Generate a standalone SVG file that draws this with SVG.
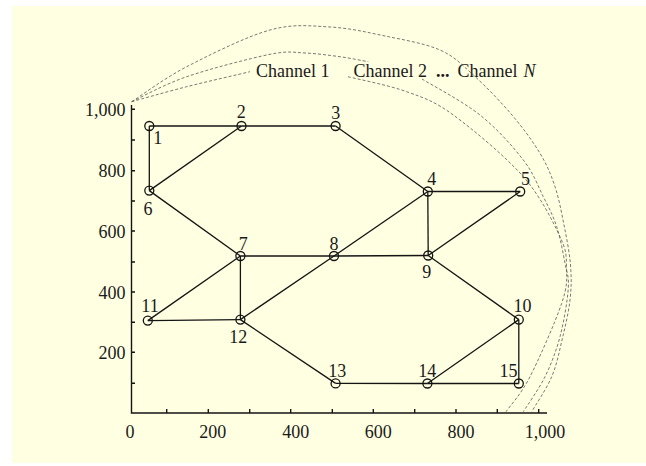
<svg xmlns="http://www.w3.org/2000/svg" width="646" height="466" viewBox="0 0 646 466">
<style>
text{font-family:"Liberation Serif","Times New Roman",serif;fill:#1a1a1a}
.lbl{font-size:18px;text-anchor:middle}
.ax{font-size:18px}
.edge{stroke:#141414;stroke-width:1.3;fill:none}
.axis{stroke:#141414;stroke-width:1.4;fill:none}
.node circle{fill:none;stroke:#141414;stroke-width:1.3}
.arc{fill:none;stroke:#555;stroke-width:0.8;stroke-dasharray:3 2}
</style>
<rect x="0" y="0" width="646" height="466" fill="#ffffff"/>
<rect x="12" y="6" width="634" height="457" fill="#ffffe1"/>

<g id="axes">
<path class="axis" d="M131.5,105 V413 H547"/>
<path class="axis" d="M131.5,140 h3.5 M131.5,201 h3.5 M131.5,262 h3.5 M131.5,322.3 h3.5 M131.5,383.3 h3.5 M131.5,109.3 h3.5 M131.5,170.7 h3.5 M131.5,231 h3.5 M131.5,292 h3.5 M131.5,352.3 h3.5"/>
<path class="axis" d="M166.7,413 v-4 M208.3,413 v-4 M249.7,413 v-4 M290.7,413 v-4 M332.3,413 v-4 M373.3,413 v-4 M414.7,413 v-4 M456,413 v-4 M497.3,413 v-4 M538.7,413 v-4"/>
<g class="ax" text-anchor="end">
<text x="125.5" y="116">1,000</text>
<text x="125.5" y="177">800</text>
<text x="125.5" y="237.5">600</text>
<text x="125.5" y="298.5">400</text>
<text x="125.5" y="358.5">200</text>
</g>
<g class="ax" text-anchor="middle">
<text x="130" y="438">0</text>
<text x="212.7" y="438">200</text>
<text x="295.7" y="438">400</text>
<text x="378.3" y="438">600</text>
<text x="461" y="438">800</text>
<text x="545" y="438">1,000</text>
</g>
</g>

<g id="channels">
<path class="arc" d="M131.7,101.7 C140.9,99.2 167,91.7 186.7,86.7 C206.4,81.7 239.5,74.2 250,71.7"/>
<path class="arc" d="M348,76.7 C357.8,79.2 389.2,85.3 406.7,91.7 C424.3,98.1 433.9,100.8 453.3,115 C472.7,129.2 505.5,156.4 523.3,176.7 C541.1,197 552.8,221.5 560,236.7 C567.2,251.9 566.2,256.9 566.5,268 C566.8,279.1 567.8,285.2 561.7,303.3 C555.6,321.4 539.3,358.6 530,376.7 C520.7,394.8 510,405.9 506,411.7"/>
<path class="arc" d="M131.7,101.7 C140.9,97.5 163.7,84.6 186.7,76.7 C209.8,68.8 250.3,58.3 270,54.3 C289.7,50.4 293.3,52.6 305,53 C315.6,53.4 329.5,55.3 340,56.7 C350.6,58.2 363.6,60.9 368.3,61.7"/>
<path class="arc" d="M422,79 C431.7,85 463.1,101.5 480,115 C496.9,128.5 512.8,146.4 523.3,160 C533.9,173.6 537.7,185.6 543.3,196.7 C548.9,207.8 553.1,215.6 556.7,226.7 C560.3,237.8 563.1,253.1 565,263.3 C566.9,273.5 569.1,275.8 568.3,288 C567.5,300.2 563.9,321.9 560,336.7 C556.1,351.5 551.1,364.2 545,376.7 C538.9,389.2 526.9,405.9 523.3,411.7"/>
<path class="arc" d="M131.7,101.7 C140.9,95.9 163.7,78.7 186.7,66.7 C209.8,54.8 246.1,36.6 270,30 C293.9,23.4 310.8,26 330,27 C349.2,28 366.7,32.2 385,36 C403.3,39.8 425.3,43.5 440,50 C454.7,56.5 461.3,64.2 473.3,75 C485.3,85.8 500.9,102 512,115 C523.1,128.1 532.8,141.4 540,153.3 C547.2,165.3 551,174.8 555,186.7 C559,198.7 561.4,212 564,225 C566.6,238 569.5,252.5 570.5,265 C571.5,277.5 571.4,287.5 570,300 C568.6,312.5 565.1,327.2 562,340 C559,352.8 556.8,364.8 551.7,376.7 C546.7,388.7 535,405.9 531.7,411.7"/>
<text class="ax" x="256" y="77">Channel 1</text>
<text class="ax" y="77"><tspan x="353.5">Channel 2</tspan><tspan x="436" font-weight="bold">...</tspan><tspan x="457.5">Channel</tspan><tspan x="523.5" font-style="italic">N</tspan></text>
</g>

<g id="connectors">
<line class="edge" x1="149.3" y1="126" x2="241.5" y2="126"/>
<line class="edge" x1="241.5" y1="126" x2="335.6" y2="126"/>
<line class="edge" x1="149.3" y1="126" x2="149.3" y2="190.6"/>
<line class="edge" x1="149.3" y1="190.6" x2="241.5" y2="126"/>
<line class="edge" x1="335.6" y1="126" x2="427.8" y2="191.5"/>
<line class="edge" x1="427.8" y1="191.5" x2="520.2" y2="191.5"/>
<line class="edge" x1="427.8" y1="191.5" x2="428.2" y2="255.5"/>
<line class="edge" x1="520.2" y1="191.5" x2="428.2" y2="255.5"/>
<line class="edge" x1="149.3" y1="190.6" x2="240.4" y2="256"/>
<line class="edge" x1="240.4" y1="256" x2="334" y2="256"/>
<line class="edge" x1="334" y1="256" x2="428.2" y2="255.5"/>
<line class="edge" x1="334" y1="256" x2="427.8" y2="191.5"/>
<line class="edge" x1="240.4" y1="319.6" x2="334" y2="256"/>
<line class="edge" x1="240.4" y1="256" x2="147.8" y2="320.6"/>
<line class="edge" x1="147.8" y1="320.6" x2="240.4" y2="319.6"/>
<line class="edge" x1="240.4" y1="256" x2="240.4" y2="319.6" stroke-width="2"/>
<line class="edge" x1="240.4" y1="319.6" x2="335.6" y2="383.4"/>
<line class="edge" x1="428.2" y1="255.5" x2="518.8" y2="319.6"/>
<line class="edge" x1="518.8" y1="319.6" x2="427.4" y2="383.5"/>
<line class="edge" x1="518.8" y1="319.6" x2="518.8" y2="383.5"/>
<line class="edge" x1="335.6" y1="383.4" x2="427.4" y2="383.5"/>
<line class="edge" x1="427.4" y1="383.5" x2="518.8" y2="383.5"/>
</g>

<g id="node1" class="node"><circle cx="149.3" cy="126" r="4.5"/><text class="lbl" x="157.7" y="143.5">1</text></g>
<g id="node2" class="node"><circle cx="241.5" cy="126" r="4.5"/><text class="lbl" x="241.3" y="118.3">2</text></g>
<g id="node3" class="node"><circle cx="335.6" cy="126" r="4.5"/><text class="lbl" x="335.7" y="119">3</text></g>
<g id="node4" class="node"><circle cx="427.8" cy="191.5" r="4.5"/><text class="lbl" x="431.7" y="185">4</text></g>
<g id="node5" class="node"><circle cx="520.2" cy="191.5" r="4.5"/><text class="lbl" x="525.5" y="185">5</text></g>
<g id="node6" class="node"><circle cx="149.3" cy="190.6" r="4.5"/><text class="lbl" x="148" y="214.5">6</text></g>
<g id="node7" class="node"><circle cx="240.4" cy="256" r="4.5"/><text class="lbl" x="243.3" y="250">7</text></g>
<g id="node8" class="node"><circle cx="334" cy="256" r="4.5"/><text class="lbl" x="334" y="250">8</text></g>
<g id="node9" class="node"><circle cx="428.2" cy="255.5" r="4.5"/><text class="lbl" x="426.7" y="278.3">9</text></g>
<g id="node10" class="node"><circle cx="518.8" cy="319.6" r="4.5"/><text class="lbl" x="522.5" y="311.7">10</text></g>
<g id="node11" class="node"><circle cx="147.8" cy="320.6" r="4.5"/><text class="lbl" x="150" y="311.7">11</text></g>
<g id="node12" class="node"><circle cx="240.4" cy="319.6" r="4.5"/><text class="lbl" x="238.3" y="342.7">12</text></g>
<g id="node13" class="node"><circle cx="335.6" cy="383.4" r="4.5"/><text class="lbl" x="337.3" y="376.7">13</text></g>
<g id="node14" class="node"><circle cx="427.4" cy="383.5" r="4.5"/><text class="lbl" x="427.3" y="376.7">14</text></g>
<g id="node15" class="node"><circle cx="518.8" cy="383.5" r="4.5"/><text class="lbl" x="508.5" y="376.5">15</text></g>
</svg>
